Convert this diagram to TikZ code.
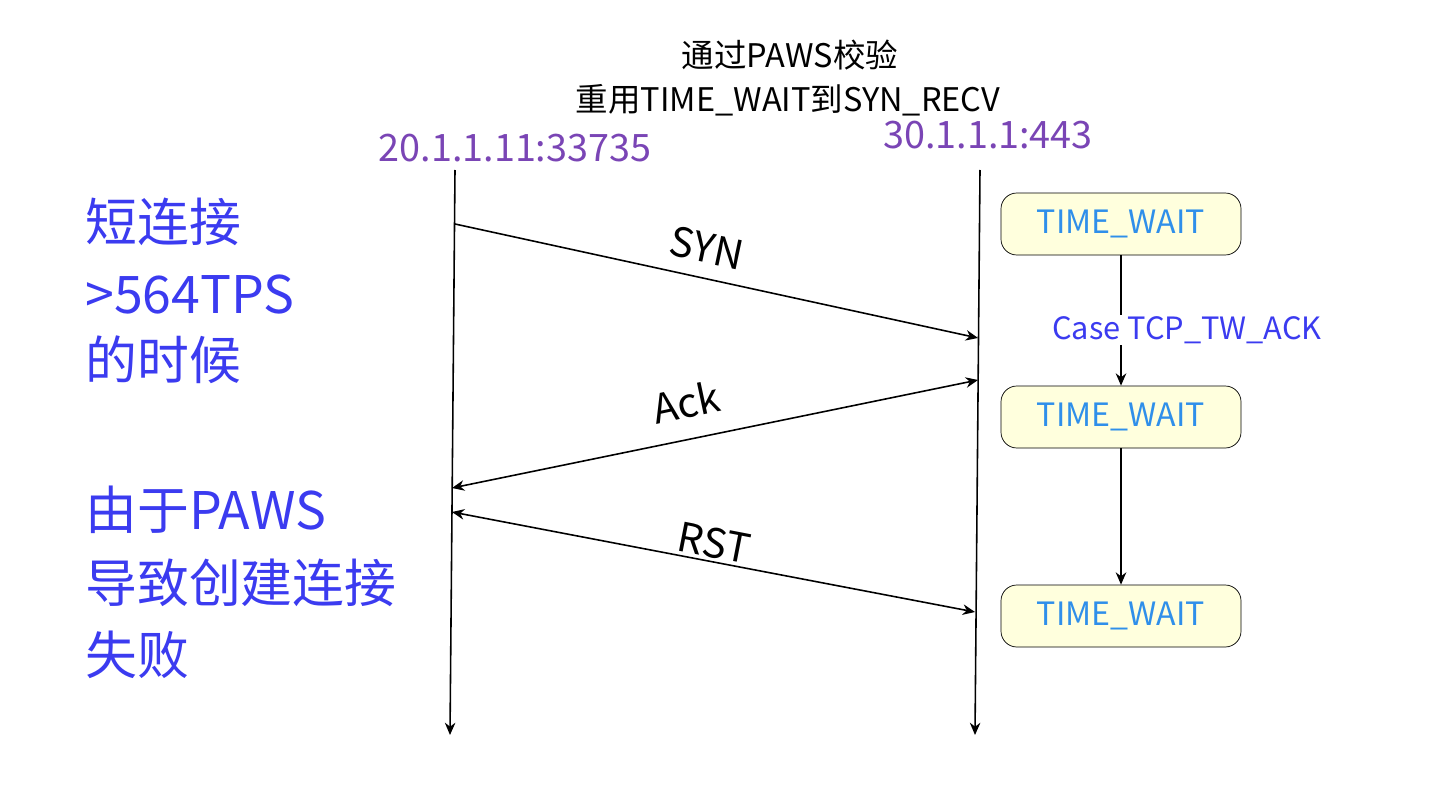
\documentclass[tikz,border=0pt]{standalone}
\usepackage{fontspec}
\setmainfont{Noto Sans CJK SC}
\usetikzlibrary{calc}
\usetikzlibrary{arrows.meta}
\definecolor{hostc}{HTML}{7A45B5}
\definecolor{notec}{HTML}{3B3BF0}
\definecolor{statec}{HTML}{2F8FEA}
\definecolor{boxfill}{HTML}{FFFFDD}
\begin{document}
\begin{tikzpicture}[x=0.02cm, y=-0.02cm, >={Stealth[length=7pt,width=6pt]},
host/.style={text=hostc, font=\fontsize{21.5}{24}\selectfont, inner sep=0},
note/.style={text=notec, font=\fontsize{29.5}{32}\selectfont, anchor=west, inner sep=0},
msg/.style={font=\fontsize{23}{26}\selectfont\itshape, inner sep=0},
state/.style={rounded corners=9pt, fill=boxfill, draw=black, minimum width=240*0.02cm, minimum height=62*0.02cm, text=statec, font=\fontsize{18.3}{20}\selectfont},
line/.style={line width=0.9pt}]

% SIZE OF THE PICTURE
\useasboundingbox (0,0) rectangle (1444,794);

% TITLE
\node[font=\fontsize{18.5}{20}\selectfont] (t1) at (790,55) {通过PAWS校验};
\node[font=\fontsize{18.5}{20}\selectfont] (t2) at (788,100) {重用TIME\_WAIT到SYN\_RECV};

% HOSTS
\node[host] (h1) at (515,148) {20.1.1.11:33735};
\node[host] (h2) at (988,135) {30.1.1.1:443};
\coordinate (L1) at (455,170);
\coordinate (L2) at (450,735);
\coordinate (R1) at (980,170);
\coordinate (R2) at (975,735);
\draw[line,->] (L1)--(L2);
\draw[line,->] (R1)--(R2);

% MESSAGES
\coordinate (s1) at (455,224);
\coordinate (s2) at (978,338);
\coordinate (a1) at (978,380);
\coordinate (a2) at (452,488);
\coordinate (r1) at (452,512);
\coordinate (r2) at (975,612);
\draw[line,->] (s1)--(s2);
\draw[line,<->] (a1)--(a2);
\draw[line,<->] (r1)--(r2);
\node[msg, rotate=-12] (syn) at (707,248) {SYN};
\node[msg, rotate=12] (ack) at (686,402) {Ack};
\node[msg, rotate=-11] (rst) at (714,543) {RST};

% STATES
\node[state] (w1) at (1121,224) {TIME\_WAIT};
\node[state] (w2) at (1121,417) {TIME\_WAIT};
\node[state] (w3) at (1121,616) {TIME\_WAIT};
\draw[line,->] (w1)--(w2);
\draw[line,->] (w2)--(w3);
\node[fill=white, text=notec, font=\fontsize{17.5}{20}\selectfont, inner sep=1pt] (case) at (1187,330) {Case TCP\_TW\_ACK};

% NOTES
\node[note] (n1) at (85,222) {短连接};
\node[note] (n2) at (85,295) {>564TPS};
\node[note] (n3) at (85,360) {的时候};
\node[note] (n4) at (85,510) {由于PAWS};
\node[note] (n5) at (85,583) {导致创建连接};
\node[note] (n6) at (85,655) {失败};
\end{tikzpicture}
\end{document}
